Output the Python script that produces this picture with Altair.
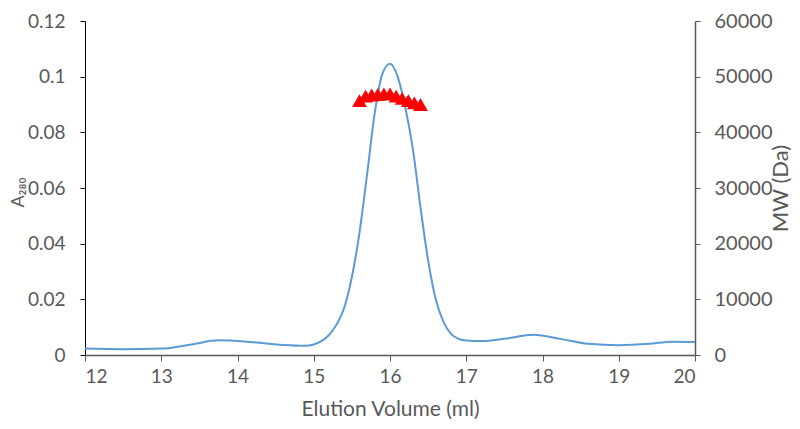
import altair as alt
import pandas as pd

# A280 trace
vol = [12.0, 12.5, 13.0, 13.4, 13.75, 14.2, 14.6, 14.88, 15.1, 15.2, 15.3, 15.4, 15.5,
       15.6, 15.7, 15.8, 15.9, 16.0, 16.1, 16.2, 16.3, 16.4, 16.5, 16.6, 16.7, 16.8,
       16.9, 17.0, 17.2, 17.5, 17.88, 18.25, 18.6, 19.0, 19.4, 19.7, 20.0]
a280 = [0.0023, 0.0021, 0.0023, 0.0038, 0.0053, 0.0046, 0.0036, 0.0033, 0.0050, 0.0072,
        0.0110, 0.0170, 0.0280, 0.0440, 0.0650, 0.0870, 0.1010, 0.1046, 0.1000, 0.0890,
        0.0740, 0.0530, 0.0340, 0.0200, 0.0120, 0.0076, 0.0058, 0.0052, 0.0050, 0.0058,
        0.0073, 0.0057, 0.0040, 0.0035, 0.0040, 0.0048, 0.0047]

# MW points
vol_mw = [15.6, 15.68, 15.76, 15.84, 15.92, 16.0, 16.08, 16.16, 16.24, 16.32, 16.4]
mw = [45700, 46500, 46700, 46800, 46900, 46900, 46500, 46100, 45700, 45300, 45000]

df_line = pd.DataFrame({"vol": vol, "a280": a280})
df_mw = pd.DataFrame({"vol": vol_mw, "mw": mw})

FONT = "Lato"
GREY = "#595959"
W, H = 610, 334

x_enc = alt.X("vol:Q",
              scale=alt.Scale(domain=[12, 20], nice=False, zero=False),
              axis=alt.Axis(title="Elution Volume (ml)", values=list(range(12, 21)),
                            format="d",
                            grid=False, domainColor=GREY, tickColor=GREY,
                            tickSize=6, labelPadding=6, titlePadding=12,
                            labelFontSize=19, titleFontSize=21,
                            labelFont=FONT, titleFont=FONT,
                            labelColor=GREY, titleColor=GREY,
                            titleFontWeight="normal", domainWidth=1.5))

line = alt.Chart(df_line).mark_line(color="#5B9BD5", strokeWidth=2,
                                    interpolate="monotone").encode(
    x=x_enc,
    y=alt.Y("a280:Q",
            scale=alt.Scale(domain=[0, 0.12], nice=False),
            axis=alt.Axis(title="A₂₈₀", orient="left",
                          values=[0, 0.02, 0.04, 0.06, 0.08, 0.1, 0.12],
                          format=".2~f", grid=False, domainColor="#000000",
                          tickColor="#000000", tickSize=5, labelPadding=15,
                          titleX=-62, titleY=H / 2 + 4, titleAngle=270,
                          titleAlign="center", titleBaseline="alphabetic",
                          labelFontSize=19, titleFontSize=18,
                          labelFont=FONT, titleFont=FONT, labelColor=GREY,
                          titleColor=GREY, titleFontWeight="normal"))
)

pts = alt.Chart(df_mw).mark_point(shape="triangle-up", filled=True, size=220,
                                  color="#FF0000", opacity=1).encode(
    x=alt.X("vol:Q", scale=alt.Scale(domain=[12, 20], nice=False, zero=False)),
    y=alt.Y("mw:Q",
            scale=alt.Scale(domain=[0, 60000], nice=False),
            axis=alt.Axis(title="MW (Da)", orient="right",
                          values=[0, 10000, 20000, 30000, 40000, 50000, 60000],
                          format="d", grid=False, domainColor=GREY,
                          tickColor=GREY, tickSize=5, labelPadding=14,
                          titleX=75, titleY=H / 2, titleAngle=270,
                          titleAlign="center", titleBaseline="top",
                          labelFontSize=20,
                          titleFontSize=22, labelFont=FONT, titleFont=FONT,
                          labelColor=GREY, titleColor=GREY,
                          titleFontWeight="normal", domainWidth=1.5))
)

chart = alt.layer(line, pts).resolve_scale(y="independent").properties(
    width=W, height=H,
    autosize=alt.AutoSizeParams(type="none"),
    padding={"left": 77, "top": 13, "right": 97, "bottom": 66},
).configure_view(stroke=None)

chart.save("out.html", embed_options={"renderer": "svg", "actions": False})
